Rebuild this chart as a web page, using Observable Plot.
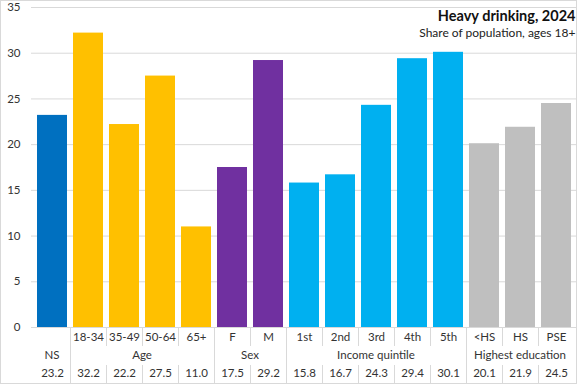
<!DOCTYPE html>
<html><head><meta charset="utf-8">
<script src="https://cdn.jsdelivr.net/npm/d3@7"></script>
<script src="https://cdn.jsdelivr.net/npm/@observablehq/plot@0.6"></script>
<style>
body{margin:0;background:#fff;}
#chart svg{display:block;}
</style></head><body><div id="chart"></div>
<script>
const categories = ["NS","18-34","35-49","50-64","65+","F","M","1st","2nd","3rd","4th","5th","<HS","HS","PSE"];
const subLabels  = ["","18-34","35-49","50-64","65+","F","M","1st","2nd","3rd","4th","5th","<HS","HS","PSE"];
const groupOf    = ["NS","Age","Age","Age","Age","Sex","Sex","Income quintile","Income quintile","Income quintile","Income quintile","Income quintile","Highest education","Highest education","Highest education"];
const values     = [23.2,32.2,22.2,27.5,11.0,17.5,29.2,15.8,16.7,24.3,29.4,30.1,20.1,21.9,24.5];
const groupNames = ["NS","Age","Sex","Income quintile","Highest education"];
const groupColors = ["#0070C0","#FFC000","#7030A0","#00B0F0","#BFBFBF"];
const yTicks = [0,5,10,15,20,25,30,35];
const titleText = "Heavy drinking, 2024";
const subtitleText = "Share of population, ages 18+";

const data = categories.map((c,i) => ({cat: c, sub: subLabels[i], group: groupOf[i], value: values[i], label: values[i].toFixed(1)}));

const gridColor = "#d9d9d9";
const textColor = "#333";

function tableMark(index, scales, vals, dims) {
  const x = scales.x;
  const xs = categories.map(c => x(c));
  const step = xs[1] - xs[0];
  const bw = typeof x.bandwidth === "function" ? x.bandwidth() : step * 0.82;
  const gap = step - bw;
  const y0 = dims.height - dims.marginBottom;
  const g = d3.create("svg:g");
  // separators
  for (let i = 1; i < categories.length; i++) {
    const bx = Math.round(xs[i] - gap / 2) + 0.5;
    if (groupOf[i] !== groupOf[i-1]) {
      g.append("line").attr("x1", bx).attr("x2", bx).attr("y1", y0).attr("y2", dims.height - 2)
        .attr("stroke", gridColor);
    } else {
      g.append("line").attr("x1", bx).attr("x2", bx).attr("y1", y0).attr("y2", y0 + 19).attr("stroke", gridColor);
      g.append("line").attr("x1", bx).attr("x2", bx).attr("y1", y0 + 38).attr("y2", dims.height - 2).attr("stroke", gridColor);
    }
  }
  // group labels
  for (const name of groupNames) {
    const idx = categories.map((c,i) => i).filter(i => groupOf[i] === name);
    const cx = (xs[idx[0]] + xs[idx[idx.length-1]] + bw) / 2;
    g.append("text").attr("x", cx).attr("y", y0 + 28).attr("dy", "0.35em")
      .attr("text-anchor", "middle").attr("fill", textColor).attr("font-size", 11.5).text(name);
  }
  // outer border
  g.append("rect").attr("x", 0.5).attr("y", 0.5).attr("width", dims.width - 1).attr("height", dims.height - 2)
    .attr("fill", "none").attr("stroke", gridColor);
  return g.node();
}

const chart = Plot.plot({
  width: 577,
  height: 385,
  marginLeft: 31,
  marginRight: 0,
  marginTop: 7,
  marginBottom: 58,
  style: {fontFamily: "Lato, 'Noto Sans', sans-serif", background: "#fff"},
  x: {type: "band", domain: categories, paddingInner: 0.18, paddingOuter: 0.09, axis: null},
  y: {domain: [0, 35], axis: null},
  color: {domain: groupNames, range: groupColors},
  marks: [
    Plot.gridY(yTicks, {stroke: gridColor, strokeOpacity: 1}),
    Plot.axisY(yTicks, {tickSize: 0, tickPadding: 11, fontSize: 11.5, fill: textColor, label: null}),
    Plot.barY(data, {x: "cat", y: "value", fill: "group"}),
    Plot.text(data, {x: "cat", text: "sub", frameAnchor: "bottom", dy: 10, lineAnchor: "middle", fontSize: 11.5, fill: textColor}),
    Plot.text(data, {x: "cat", text: "label", frameAnchor: "bottom", dy: 46, lineAnchor: "middle", fontSize: 11.5, fill: textColor}),
    tableMark,
    Plot.text([titleText], {frameAnchor: "top-right", dx: -2, dy: 9, lineAnchor: "middle", textAnchor: "end", fontSize: 14.5, fontWeight: "bold", fill: "#111"}),
    Plot.text([subtitleText], {frameAnchor: "top-right", dx: -2, dy: 26, lineAnchor: "middle", textAnchor: "end", fontSize: 12, fill: "#222"})
  ]
});
document.getElementById("chart").appendChild(chart);
</script>
</body></html>
